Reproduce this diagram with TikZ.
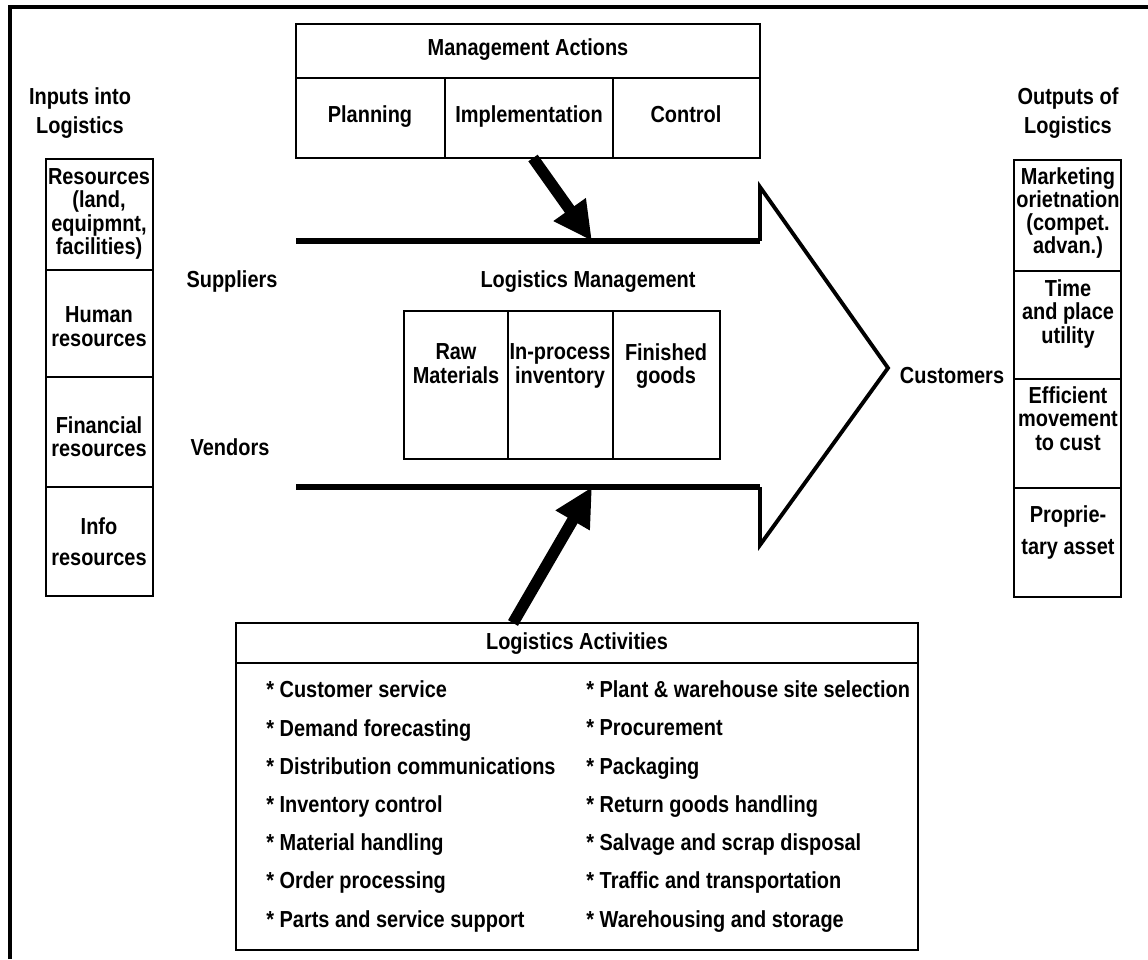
\documentclass[tikz,border=0pt]{standalone}
\usepackage{fontspec}
\setmainfont{Liberation Sans}[FakeStretch=0.86]
\usetikzlibrary{arrows.meta}
\tikzset{txt/.style={font=\bfseries\fontsize{13.2}{13.2}\selectfont, align=center, inner sep=0pt,
		execute at begin node=\strut, execute at end node=\strut},
	item/.style={txt, anchor=west},
	cell/.style={line width=1.3pt},
	rim/.style={line width=3pt},
	bigarrow/.style={line width=6.5pt, -{Triangle[length=22pt,width=21pt]}}}

\begin{document}
\begin{tikzpicture}[x=0.02cm, y=-0.02cm]
		\useasboundingbox (0,0) rectangle (1148,959);
		\draw[line width=2.3pt] (10,959) -- (10,7) -- (1148,7);
		% management actions
		\draw[cell] (296,24) rectangle (760,158);
		\draw[cell] (296,78) -- (760,78);
		\draw[cell] (445,78) -- (445,158);
		\draw[cell] (613,78) -- (613,158);
		\node[txt] (mgmt) at (528,51) {Management Actions};
		\node[txt] (plan) at (370,118) {Planning};
		\node[txt] (impl) at (529,118) {Implementation};
		\node[txt] (ctrl) at (686,118) {Control};
		% the big arrow
		\draw[rim] (296,241) -- (760,241);
		\draw[rim] (296,487) -- (760,487);
		\draw[line width=2.2pt, line join=miter] (760,241) -- (760,187) -- (888,368) -- (760,545) -- (760,487);
		\node[txt] (lm) at (588,283) {Logistics Management};
		\draw[cell] (404,311) rectangle (720,459);
		\draw[cell] (508,311) -- (508,459);
		\draw[cell] (613,311) -- (613,459);
		\node[txt] (raw) at (456,367) {Raw\\Materials};
		\node[txt] (inproc) at (560,367) {In-process\\inventory};
		\node[txt] (fin) at (666,367) {Finished\\goods};
		\node[txt] (sup) at (232,283) {Suppliers};
		\node[txt] (ven) at (230,451) {Vendors};
		\node[txt] (cust) at (952,379) {Customers};
		% inputs
		\node[txt] (inputs) at (80,114) {Inputs into\\[3pt]Logistics};
		\draw[cell] (46,159) rectangle (153,596);
		\draw[cell] (46,270) -- (153,270);
		\draw[cell] (46,377) -- (153,377);
		\draw[cell] (46,487) -- (153,487);
		\node[txt] (in1) at (99,215) {Resources\\(land,\\equipmnt,\\facilities)};
		\node[txt] (in2) at (99,330) {Human\\resources};
		\node[txt] (in3) at (99,440) {Financial\\resources};
		\node[txt] (in4) at (99,545) {Info\\[4pt]resources};
		% outputs
		\node[txt] (outputs) at (1068,114) {Outputs of\\[3pt]Logistics};
		\draw[cell] (1014,160) rectangle (1121,597);
		\draw[cell] (1014,271) -- (1121,271);
		\draw[cell] (1014,379) -- (1121,379);
		\draw[cell] (1014,488) -- (1121,488);
		\node[txt] (out1) at (1068,214) {Marketing\\orietnation\\(compet.\\advan.)};
		\node[txt] (out2) at (1068,315) {Time\\and place\\utility};
		\node[txt] (out3) at (1068,422) {Efficient\\movement\\to cust};
		\node[txt] (out4) at (1068,534) {Proprie-\\[5pt]tary asset};
		% logistics activities
		\draw[cell] (236,623) rectangle (918,950);
		\draw[cell] (236,663) -- (918,663);
		\node[txt] (act) at (577,645) {Logistics Activities};
		\foreach \t [count=\i from 0] in {Customer service, Demand forecasting, Distribution communications,
			Inventory control, Material handling, Order processing, Parts and service support}
			\node[item] (actl\i) at (266,{693+38.2*\i}) {* \t};
		\foreach \t [count=\i from 0] in {Plant \& warehouse site selection, Procurement, Packaging,
			Return goods handling, Salvage and scrap disposal, Traffic and transportation, Warehousing and storage}
			\node[item] (actr\i) at (586,{693+38.2*\i}) {* \t};
		% the two pushes
		\coordinate (mgmtfoot) at (533,158);
		\coordinate (bodytop) at (592,241);
		\coordinate (actfoot) at (513,623);
		\coordinate (bodybot) at (592,487);
		\draw[bigarrow] (mgmtfoot) -- (bodytop);
		\draw[bigarrow] (actfoot) -- (bodybot);
	\end{tikzpicture}
\end{document}
